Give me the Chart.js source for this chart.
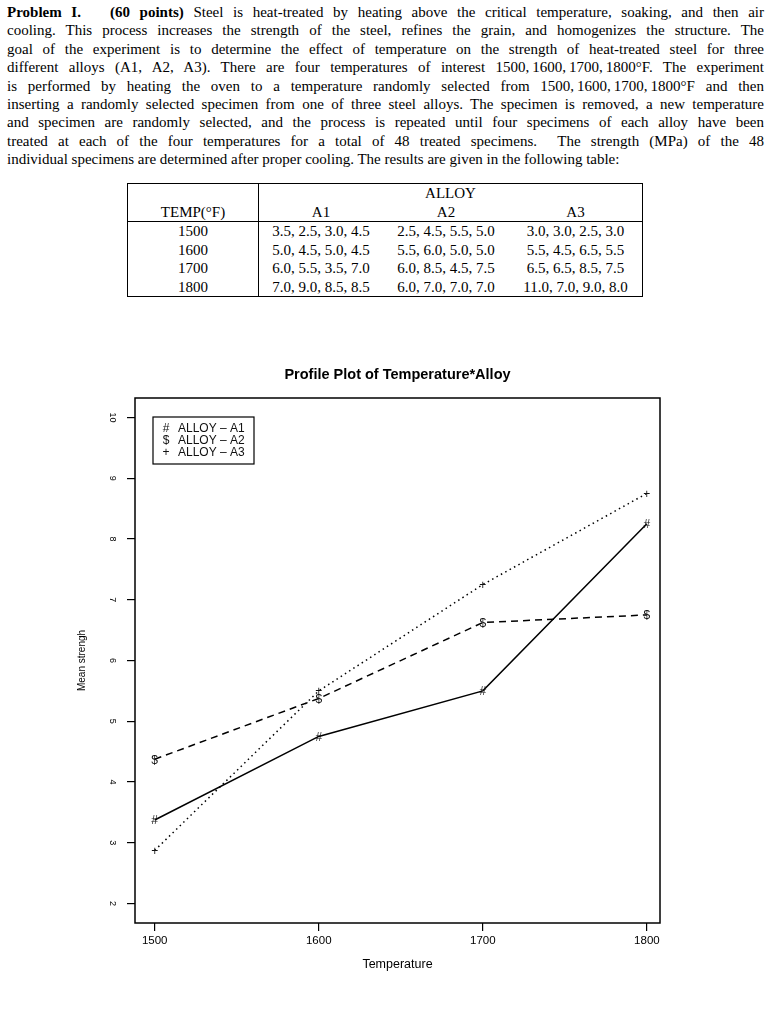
<!DOCTYPE html>
<html>
<head>
<meta charset="utf-8">
<script src="https://cdn.jsdelivr.net/npm/chart.js@4.4.0/dist/chart.umd.min.js"></script>
<style>
  body { margin: 0; background: #fff; }
  #page { position: relative; width: 772px; height: 1023px; overflow: hidden; }
  #para { position: absolute; left: 7px; top: 3px; width: 757px;
          font-family: "Liberation Serif", serif; font-size: 15px; line-height: 18.4px; color: #000; }
  #para div { text-align: justify; text-align-last: justify; white-space: nowrap; }
  #para div.last { text-align-last: left; }
  #tbl { position: absolute; left: 127px; top: 183px; border-collapse: collapse;
         border: 1px solid #000; font-family: "Liberation Serif", serif; font-size: 15px; color: #000; }
  #tbl td { padding: 0; text-align: center; height: 18.5px; line-height: 18px; white-space: nowrap; }
  #tbl td.tc { width: 130px; border-right: 1px solid #000; }
  #tbl tr.hd td { border-bottom: 1px solid #000; }
  #profile { position: absolute; left: 23px; top: 340px; }
</style>
</head>
<body>
<div id="page">
  <div id="para">
    <div><b>Problem I.</b>&nbsp;&nbsp; <b>(60 points)</b> Steel is heat-treated by heating above the critical temperature, soaking, and then air</div>
    <div>cooling. This process increases the strength of the steel, refines the grain, and homogenizes the structure. The</div>
    <div>goal of the experiment is to determine the effect of temperature on the strength of heat-treated steel for three</div>
    <div>different alloys (A1, A2, A3). There are four temperatures of interest 1500,&thinsp;1600,&thinsp;1700,&thinsp;1800°F. The experiment</div>
    <div>is performed by heating the oven to a temperature randomly selected from 1500,&thinsp;1600,&thinsp;1700,&thinsp;1800°F and then</div>
    <div>inserting a randomly selected specimen from one of three steel alloys. The specimen is removed, a new temperature</div>
    <div>and specimen are randomly selected, and the process is repeated until four specimens of each alloy have been</div>
    <div>treated at each of the four temperatures for a total of 48 treated specimens. &nbsp;The strength (MPa) of the 48</div>
    <div class="last">individual specimens are determined after proper cooling. The results are given in the following table:</div>
  </div>
  <table id="tbl"></table>
  <canvas id="profile" width="749" height="660"></canvas>
</div>

<script>
// raw specimen strengths (MPa), one string per cell
const temps = [1500, 1600, 1700, 1800];
const alloys = ['A1', 'A2', 'A3'];
const rawA1 = ['3.5, 2.5, 3.0, 4.5', '5.0, 4.5, 5.0, 4.5', '6.0, 5.5, 3.5, 7.0', '7.0, 9.0, 8.5, 8.5'];
const rawA2 = ['2.5, 4.5, 5.5, 5.0', '5.5, 6.0, 5.0, 5.0', '6.0, 8.5, 4.5, 7.5', '6.0, 7.0, 7.0, 7.0'];
const rawA3 = ['3.0, 3.0, 2.5, 3.0', '5.5, 4.5, 6.5, 5.5', '6.5, 6.5, 8.5, 7.5', '11.0, 7.0, 9.0, 8.0'];

// mean strength per temperature (profile plot)
const meanA1 = [3.375, 4.75, 5.5, 8.25];
const meanA2 = [4.375, 5.375, 6.625, 6.75];
const meanA3 = [2.875, 5.5, 7.25, 8.75];
const markers = ['#', '$', '+'];
const yTicks = [2, 3, 4, 5, 6, 7, 8, 9, 10];

// table
const tbl = document.getElementById('tbl');
let html = `<tr><td class="tc"></td><td colspan="3">ALLOY</td></tr>
            <tr class="hd"><td class="tc">TEMP(°F)</td>${alloys.map(a => `<td>${a}</td>`).join('')}</tr>`;
temps.forEach((t, i) => {
    html += `<tr><td class="tc">${t}</td><td style="width:124px">${rawA1[i]}</td>
             <td style="width:126px">${rawA2[i]}</td><td style="width:133px">${rawA3[i]}</td></tr>`;
});
tbl.innerHTML = html;

const sans = 'Liberation Sans, Arial, sans-serif';

const extras = {
    id: 'extras',
    afterDatasetsDraw(chart) {
        const ctx = chart.ctx;
        const a = chart.chartArea;
        ctx.save();
        // box around the plot
        ctx.strokeStyle = '#000';
        ctx.lineWidth = 1.5;
        ctx.strokeRect(a.left, a.top, a.right - a.left, a.bottom - a.top);

        // character markers
        ctx.fillStyle = '#111';
        ctx.font = '12px ' + sans;
        ctx.textAlign = 'center';
        ctx.textBaseline = 'middle';
        chart.data.datasets.forEach((ds, di) => {
            chart.getDatasetMeta(di).data.forEach(pt => {
                ctx.fillText(markers[di], pt.x, pt.y + 1);
            });
        });

        // legend box
        const lx = a.left + 18, ly = a.top + 19;
        ctx.lineWidth = 1.2;
        ctx.strokeRect(lx, ly, 101, 47);
        ctx.font = '12px ' + sans;
        chart.data.datasets.forEach((ds, di) => {
            const y = ly + 12 + di * 12;
            ctx.textAlign = 'center';
            ctx.fillText(markers[di], lx + 13, y);
            ctx.textAlign = 'left';
            ctx.fillText(ds.label, lx + 25, y);
        });
        ctx.restore();
    }
};

const mkData = vals => temps.map((t, i) => ({ x: t, y: vals[i] }));

new Chart(document.getElementById('profile'), {
    type: 'line',
    data: {
        datasets: [{
            label: 'ALLOY – A1',
            data: mkData(meanA1),
            borderColor: '#000',
            borderWidth: 1.5,
            pointRadius: 0
        }, {
            label: 'ALLOY – A2',
            data: mkData(meanA2),
            borderColor: '#000',
            borderWidth: 1.5,
            borderDash: [7, 5],
            pointRadius: 0
        }, {
            label: 'ALLOY – A3',
            data: mkData(meanA3),
            borderColor: '#000',
            borderWidth: 1.5,
            borderDash: [1.5, 3.5],
            pointRadius: 0
        }]
    },
    options: {
        responsive: false,
        animation: false,
        layout: { padding: 0 },
        plugins: {
            legend: { display: false },
            tooltip: { enabled: false },
            title: {
                display: true,
                text: 'Profile Plot of Temperature*Alloy',
                color: '#000',
                font: { family: sans, size: 14.5, weight: 'bold' },
                padding: { top: 26, bottom: 14.6 }
            }
        },
        scales: {
            x: {
                type: 'linear',
                min: 1488,
                max: 1808,
                afterBuildTicks: s => { s.ticks = temps.map(v => ({ value: v })); },
                afterFit: s => { s.height = 77; },
                grid: { drawOnChartArea: false, drawTicks: true, tickLength: 8, color: '#000', lineWidth: 1.2 },
                border: { display: false },
                ticks: { color: '#000', font: { family: sans, size: 11.5 }, padding: 3, maxRotation: 0,
                         callback: v => String(v) },
                title: { display: true, text: 'Temperature', color: '#000',
                         font: { family: sans, size: 12.5 }, padding: { top: 0, bottom: 28 } }
            },
            y: {
                type: 'linear',
                min: 1.68,
                max: 10.32,
                afterBuildTicks: s => { s.ticks = yTicks.map(v => ({ value: v })); },
                afterFit: s => { s.width = 112; },
                grid: { drawOnChartArea: false, drawTicks: true, tickLength: 8, color: '#000', lineWidth: 1.2 },
                border: { display: false },
                ticks: { color: '#000', font: { family: sans, size: 9 }, padding: 10,
                         minRotation: -90, maxRotation: -90, crossAlign: 'center' },
                title: { display: true, text: 'Mean strengh', color: '#000',
                         font: { family: sans, size: 10 }, padding: { top: 53, bottom: 0 } }
            },
            // empty right axis, only reserves the space right of the plot box
            yRight: {
                type: 'linear',
                position: 'right',
                min: 0,
                max: 1,
                afterFit: s => { s.width = 112; },
                grid: { display: false },
                border: { display: false },
                ticks: { display: false }
            }
        }
    },
    plugins: [extras]
});
</script>
</body>
</html>
